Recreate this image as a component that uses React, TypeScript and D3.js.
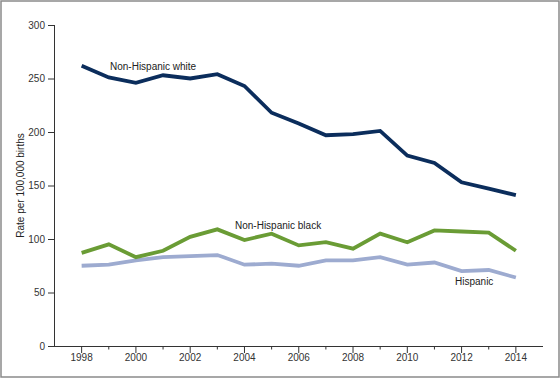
import React from "react";
import * as d3 from "d3";

const years = [1998, 1999, 2000, 2001, 2002, 2003, 2004, 2005, 2006, 2007, 2008, 2009, 2010, 2011, 2012, 2013, 2014];
const whiteValues = [262, 251, 246, 253, 250, 254, 243, 218, 208, 197, 198, 201, 178, 171, 153, 147, 141];
const blackValues = [87, 95, 83, 89, 102, 109, 99, 105, 94, 97, 91, 105, 97, 108, 107, 106, 89];
const hispanicValues = [75, 76, 80, 83, 84, 85, 76, 77, 75, 80, 80, 83, 76, 78, 70, 71, 64];
const yTicks = [0, 50, 100, 150, 200, 250, 300];
const xMajorTicks = [1998, 2000, 2002, 2004, 2006, 2008, 2010, 2012, 2014];
const xMinorTicks = [1999, 2001, 2003, 2005, 2007, 2009, 2011, 2013];

const seriesList = [
  { name: "Hispanic", values: hispanicValues, color: "#9dabd0" },
  { name: "Non-Hispanic black", values: blackValues, color: "#6a9c35" },
  { name: "Non-Hispanic white", values: whiteValues, color: "#0b2d5c" },
];

export default function App() {
  const W = 560, H = 378;
  const x = d3.scaleLinear().domain([1997, 2015]).range([54.5, 543]);
  const y = d3.scaleLinear().domain([0, 300]).range([346, 25]);
  const line = d3.line<number>().x((_, i) => x(years[i])).y((d) => y(d));
  const font = "Arial, 'Liberation Sans', sans-serif";
  return (
    <svg width={W} height={H} style={{ position: "absolute", left: 0, top: 0 }}>
      <rect x={1} y={1} width={W - 2} height={H - 2} fill="white" stroke="#8a8a8a" strokeWidth={1.5} />
      {/* y axis */}
      <line x1={54.5} x2={54.5} y1={y(300)} y2={y(0)} stroke="#333" strokeWidth={1} />
      {yTicks.map((t) => (
        <g key={t}>
          <line x1={48} x2={54.5} y1={y(t) + 0.5} y2={y(t) + 0.5} stroke="#333" />
          <text x={45} y={y(t)} dy="0.35em" textAnchor="end" fontFamily={font} fontSize={10} fill="#333">{t}</text>
        </g>
      ))}
      {/* x axis */}
      <line x1={54} x2={543} y1={y(0) + 0.5} y2={y(0) + 0.5} stroke="#333" strokeWidth={1} />
      {xMajorTicks.map((t) => (
        <g key={t}>
          <line x1={x(t)} x2={x(t)} y1={y(0)} y2={y(0) + 7} stroke="#333" />
          <text x={x(t)} y={y(0) + 15} textAnchor="middle" fontFamily={font} fontSize={10} fill="#333">{t}</text>
        </g>
      ))}
      {xMinorTicks.map((t) => (
        <line key={t} x1={x(t)} x2={x(t)} y1={y(0)} y2={y(0) + 3.5} stroke="#333" />
      ))}
      {/* series */}
      {seriesList.map((s) => (
        <path key={s.name} d={line(s.values) || ""} fill="none" stroke={s.color} strokeWidth={3.8} strokeLinejoin="miter" />
      ))}
      {/* labels */}
      <text x={110} y={70} fontFamily={font} fontSize={10} fill="#222">Non-Hispanic white</text>
      <text x={235} y={229} fontFamily={font} fontSize={10} fill="#222">Non-Hispanic black</text>
      <text x={455} y={285} fontFamily={font} fontSize={10} fill="#222">Hispanic</text>
      <text transform={`translate(24, ${(y(0) + y(300)) / 2}) rotate(-90)`} textAnchor="middle" fontFamily={font} fontSize={10} fill="#222">Rate per 100,000 births</text>
    </svg>
  );
}
